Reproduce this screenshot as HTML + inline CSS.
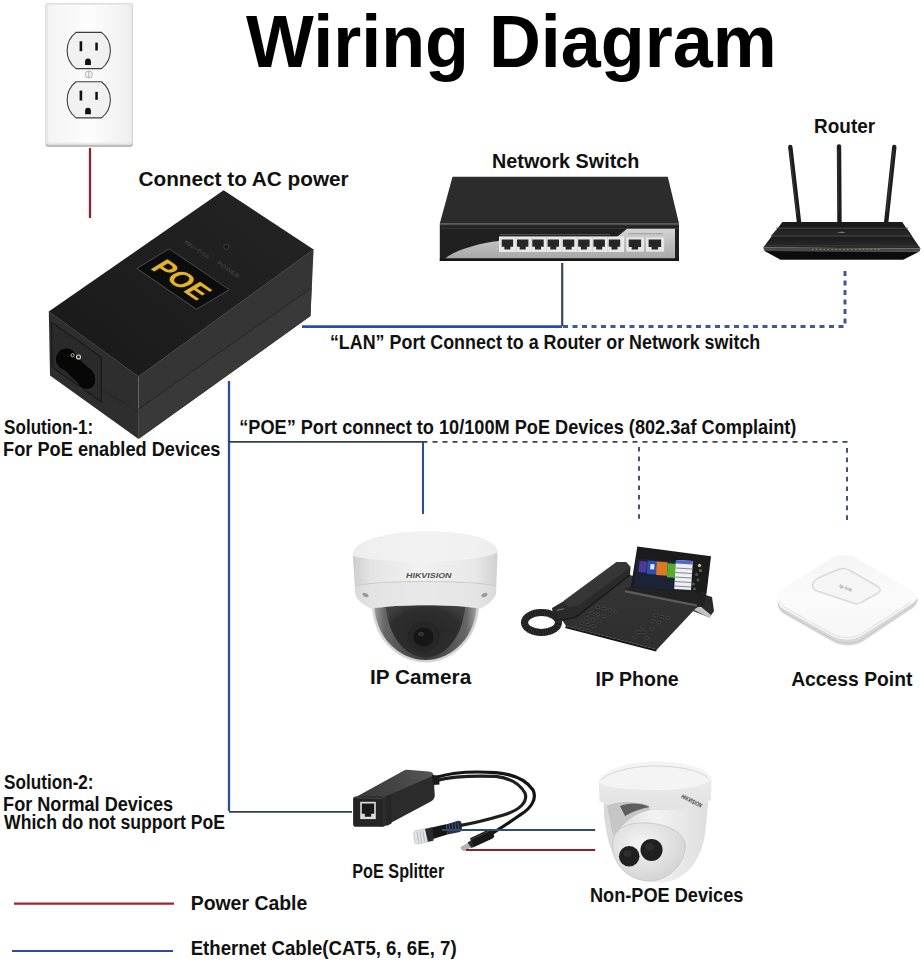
<!DOCTYPE html>
<html><head><meta charset="utf-8">
<style>
html,body{margin:0;padding:0;background:#fff;width:924px;height:968px;overflow:hidden}
svg{display:block}
text{font-family:"Liberation Sans",sans-serif;font-weight:bold;fill:#111}
</style></head><body>
<svg width="924" height="968" viewBox="0 0 924 968">
<defs>
  <linearGradient id="plateG" x1="0" y1="0" x2="1" y2="0">
    <stop offset="0" stop-color="#f4f4f4"/><stop offset="0.5" stop-color="#fdfdfd"/><stop offset="1" stop-color="#efefef"/>
  </linearGradient>
  <linearGradient id="poeTop" x1="223" y1="190" x2="95" y2="345" gradientUnits="userSpaceOnUse">
    <stop offset="0" stop-color="#222"/><stop offset="1" stop-color="#1b1b1b"/>
  </linearGradient>
  <linearGradient id="swTop" x1="0" y1="0" x2="0" y2="1">
    <stop offset="0" stop-color="#2d2d2d"/><stop offset="1" stop-color="#2b2b2b"/>
  </linearGradient>
  <linearGradient id="swSilver" x1="0" y1="0" x2="0" y2="1">
    <stop offset="0" stop-color="#d4d4d4"/><stop offset="1" stop-color="#a8a8a8"/>
  </linearGradient>
  <linearGradient id="domeHouse" x1="0" y1="0" x2="1" y2="0">
    <stop offset="0" stop-color="#cdcdcd"/><stop offset="0.12" stop-color="#e4e4e4"/><stop offset="0.45" stop-color="#f1f1f1"/><stop offset="0.85" stop-color="#e8e8e8"/><stop offset="1" stop-color="#cfcfcf"/>
  </linearGradient>
  <linearGradient id="domeGlass" x1="0" y1="0" x2="1" y2="0">
    <stop offset="0" stop-color="#9a9a9a"/><stop offset="0.1" stop-color="#666"/><stop offset="0.5" stop-color="#3a3a3a"/><stop offset="0.9" stop-color="#666"/><stop offset="1" stop-color="#a0a0a0"/>
  </linearGradient>
  <radialGradient id="domeInner" cx="0.5" cy="0.6" r="0.6">
    <stop offset="0" stop-color="#262626"/><stop offset="0.75" stop-color="#2e2e2e"/><stop offset="1" stop-color="#404040"/>
  </radialGradient>
  <linearGradient id="phoneBase" x1="0" y1="0" x2="0" y2="1">
    <stop offset="0" stop-color="#353535"/><stop offset="1" stop-color="#2e2e2e"/>
  </linearGradient>
  <linearGradient id="handset" x1="0" y1="0" x2="1" y2="1">
    <stop offset="0" stop-color="#3a3a3a"/><stop offset="1" stop-color="#222"/>
  </linearGradient>
  <linearGradient id="apTop" x1="0" y1="0" x2="0" y2="1">
    <stop offset="0" stop-color="#f4f4f4"/><stop offset="0.5" stop-color="#fbfbfb"/><stop offset="1" stop-color="#f6f6f6"/>
  </linearGradient>
  <linearGradient id="splTop" x1="355" y1="797" x2="430" y2="772" gradientUnits="userSpaceOnUse">
    <stop offset="0" stop-color="#383838"/><stop offset="0.6" stop-color="#474747"/><stop offset="1" stop-color="#555"/>
  </linearGradient>
  <linearGradient id="turBody" x1="0" y1="0" x2="1" y2="0">
    <stop offset="0" stop-color="#d8d8d8"/><stop offset="0.5" stop-color="#f2f2f2"/><stop offset="1" stop-color="#dedede"/>
  </linearGradient>
  <linearGradient id="turRing" x1="0" y1="0" x2="0" y2="1">
    <stop offset="0" stop-color="#f0f0f0"/><stop offset="1" stop-color="#e2e2e2"/>
  </linearGradient>
  <radialGradient id="turBall" cx="0.4" cy="0.35" r="0.7">
    <stop offset="0" stop-color="#f4f4f4"/><stop offset="1" stop-color="#d2d2d2"/>
  </radialGradient>
  <linearGradient id="rtTop" x1="0" y1="0" x2="0" y2="1">
    <stop offset="0" stop-color="#1c1c1c"/><stop offset="0.5" stop-color="#181818"/><stop offset="1" stop-color="#2c2c2c"/>
  </linearGradient>
</defs>
<rect width="924" height="968" fill="#fff"/>

<!-- ===== OUTLET ===== -->
<g class="gfx" id="outlet">
  <rect x="45.5" y="3" width="87.5" height="144" rx="3" fill="#bdbdbd"/>
  <rect x="46" y="3.2" width="86.5" height="141.6" rx="2.5" fill="#e9e9e9"/>
  <rect x="48" y="5" width="82.5" height="137.5" rx="2" fill="url(#plateG)"/>
  <g id="rcp">
    <path d="M76 32.4H101.5A22.9 22.9 0 0 1 101.5 68.6H76A22.9 22.9 0 0 1 76 32.4Z" fill="#f1f1f1" stroke="#3c3c3c" stroke-width="1.1"/>
    <rect x="79.6" y="41.3" width="2.6" height="9.9" fill="#111"/>
    <rect x="95.3" y="42.6" width="2.5" height="7.9" fill="#111"/>
    <path d="M85.1 65V61.4A2.9 2.9 0 0 1 90.9 61.4V65Z" fill="#111"/>
  </g>
  <use href="#rcp" y="49.3"/>
  <circle cx="88.8" cy="74.4" r="3.6" fill="#f4f4f4" stroke="#9a9a9a" stroke-width="0.7"/>
  <line x1="88.8" y1="71" x2="88.8" y2="77.8" stroke="#9a9a9a" stroke-width="0.7"/>
</g>

<!-- ===== POE ADAPTER ===== -->
<g class="gfx" id="poe">
  <!-- top face -->
  <polygon points="223.6,190.2 313.6,249.4 138.5,376.5 48.8,311.6" fill="url(#poeTop)"/>
  <!-- right face -->
  <polygon points="138.5,376.5 313.6,249.4 310.5,316 138.5,439" fill="#353535"/>
  <polygon points="138.5,409 311.5,288 310.5,316 138.5,439" fill="#393939"/>
  <line x1="138.5" y1="409" x2="311.5" y2="288" stroke="#262626" stroke-width="1"/>
  <line x1="138.5" y1="376.5" x2="313.6" y2="249.4" stroke="#3a3a3a" stroke-width="0.8"/>
  <!-- front face -->
  <polygon points="48.8,311.6 138.5,376.5 138.5,439 50,375.5" fill="#2e2e2e"/>
  <polygon points="51.5,322.3 101.3,357 101.3,402 52,367" fill="#2a2a2a" stroke="#1a1a1a" stroke-width="1.2"/><line x1="102" y1="389.5" x2="138.5" y2="412.7" stroke="#262626" stroke-width="1"/>
  <!-- IEC C8 inlet -->
  <g fill="#070707" stroke="#383838" stroke-width="0.9">
    <ellipse cx="66.4" cy="359.3" rx="11" ry="11.2"/>
    <ellipse cx="85.6" cy="378" rx="10" ry="11.8" transform="rotate(-20 85.6 378)"/>
  </g>
  <path d="M72.8 352.8 L92 371.5 L79.2 384.3 L60 365.7Z" fill="#070707"/>
  <ellipse cx="66.4" cy="359.3" rx="10.5" ry="10.7" fill="#070707"/>
  <ellipse cx="85.6" cy="378" rx="9.5" ry="11.3" transform="rotate(-20 85.6 378)" fill="#070707"/>
  <circle cx="72.6" cy="355.3" r="1.6" fill="none" stroke="#cfcfb0" stroke-width="0.9"/>
  <circle cx="78.5" cy="357" r="2" fill="none" stroke="#e0e0c0" stroke-width="1.1"/>
  <line x1="48.8" y1="311.6" x2="138.5" y2="376.5" stroke="#333" stroke-width="0.8"/>
  <!-- label -->
  <g transform="matrix(0.826 0.564 -0.855 0.518 169.2 248.8)">
    <rect x="0" y="0" width="72.5" height="38" rx="1" fill="#0c0c0c" stroke="#505050" stroke-width="0.9"/>
    <text x="36" y="30" font-size="28" text-anchor="middle" textLength="58" lengthAdjust="spacingAndGlyphs" style="fill:#e2b526;font-weight:bold">POE</text>
  </g>
  <circle cx="226.3" cy="246.8" r="2.6" fill="#161616" stroke="#444" stroke-width="0.9"/>
  <g style="font-size:5.5px;font-weight:normal" fill="#4a4a4a">
    <text transform="translate(186 239.5) rotate(34.3)" x="0" y="4" textLength="29" lengthAdjust="spacingAndGlyphs" style="fill:#4a4a4a;font-weight:normal">48V⎓0.5A</text>
    <text transform="translate(219 260.5) rotate(34.3)" x="0" y="4" textLength="26" lengthAdjust="spacingAndGlyphs" style="fill:#4a4a4a;font-weight:normal">POWER</text>
  </g>
</g>

<!-- ===== NETWORK SWITCH ===== -->
<g class="gfx" id="switch">
  <polygon points="452.5,176.8 667.8,176.8 679,223.5 439.8,223.5" fill="url(#swTop)"/>
  <rect x="439.8" y="223.5" width="239.2" height="37.3" fill="#202020"/>
  <line x1="440" y1="224.6" x2="679" y2="224.6" stroke="#505050" stroke-width="1.2"/>
  <line x1="441" y1="228.3" x2="679" y2="228.3" stroke="#3c3c3c" stroke-width="0.9"/>
  <path d="M445 258.5 C455 250 480 243 498.6 241 L500 237 L617 237 L627 228.8 L675 228.8 L675 258.5Z" fill="url(#swSilver)"/>
  <rect x="499" y="236.4" width="125" height="15.6" fill="#e8e8e8"/>
  <rect x="626.3" y="237.3" width="17.6" height="14.4" fill="#e6e6e6"/>
  <rect x="646" y="237.3" width="18.2" height="14.4" fill="#e6e6e6"/>
  <g fill="#d0d0d0">
    <rect x="515.6" y="237" width="0.8" height="15"/>
    <rect x="530.9" y="237" width="0.8" height="15"/>
    <rect x="546.2" y="237" width="0.8" height="15"/>
    <rect x="561.5" y="237" width="0.8" height="15"/>
    <rect x="576.8" y="237" width="0.8" height="15"/>
    <rect x="592.1" y="237" width="0.8" height="15"/>
    <rect x="607.4" y="237" width="0.8" height="15"/>
  </g>
  <g id="ports" fill="#262626">
    <path d="M501.7 239.4H513.1V246.8H510.4V249.4H504.4V246.8H501.7Z"/>
    <path d="M517.0 239.4H528.4V246.8H525.7V249.4H519.7V246.8H517.0Z"/>
    <path d="M532.3 239.4H543.7V246.8H541.0V249.4H535.0V246.8H532.3Z"/>
    <path d="M547.6 239.4H559.0V246.8H556.3V249.4H550.3V246.8H547.6Z"/>
    <path d="M562.9 239.4H574.3V246.8H571.6V249.4H565.6V246.8H562.9Z"/>
    <path d="M578.2 239.4H589.6V246.8H586.9V249.4H580.9V246.8H578.2Z"/>
    <path d="M593.5 239.4H604.9V246.8H602.2V249.4H596.2V246.8H593.5Z"/>
    <path d="M608.8 239.4H620.2V246.8H617.5V249.4H611.5V246.8H608.8Z"/>
    <path d="M628.7 239.4H641.1V247H638.1V249.6H631.7V247H628.7Z"/>
    <path d="M648.6 239.4H661.1V247H658.1V249.6H651.6V247H648.6Z"/>
  </g>
  <line x1="500" y1="234.6" x2="610" y2="234.6" stroke="#777" stroke-width="0.6"/>
  <line x1="628" y1="233.8" x2="663" y2="233.8" stroke="#777" stroke-width="0.6"/>
  <rect x="439.8" y="258.5" width="239.2" height="2.5" fill="#151515"/>
</g>

<!-- ===== ROUTER ===== -->
<g class="gfx" id="router">
  <path d="M790.3 147 L799.8 229" stroke="#1c1c1c" stroke-width="4.4" stroke-linecap="round"/>
  <path d="M839 146.5 L839.5 226" stroke="#1c1c1c" stroke-width="4.4" stroke-linecap="round"/>
  <path d="M894.3 147 L885.8 226" stroke="#1c1c1c" stroke-width="4.4" stroke-linecap="round"/>
  <path d="M789.6 150 L797 214" stroke="#3a3a3a" stroke-width="1"/>
  <path d="M838 150 L838.3 212" stroke="#3a3a3a" stroke-width="1"/>
  <path d="M893.3 150 L886.6 212" stroke="#3a3a3a" stroke-width="1"/>
  <path d="M782.4 221.9 L902.2 221.9 L920.5 248.4 L763.2 247.5Z" fill="url(#rtTop)"/>
  <path d="M776 230 L908 230 L912 236 L771 236Z" fill="#252525"/>
  <path d="M763.2 247.5 L920.5 248.4 L919.5 251.5 L764.5 251Z" fill="#484848"/>
  <path d="M764.5 251 L919.5 251.5 L903.2 259.8 L780.6 259.8Z" fill="#0c0c0c"/>
  <line x1="776" y1="228.2" x2="908" y2="228.2" stroke="#555" stroke-width="0.9"/>
  <line x1="771" y1="236" x2="912" y2="236" stroke="#505050" stroke-width="0.9"/>
  <line x1="766" y1="245.5" x2="918" y2="246" stroke="#3a3a3a" stroke-width="0.8"/>
  <line x1="812" y1="249.3" x2="882" y2="249.3" stroke="#8a8a6a" stroke-width="1" stroke-dasharray="1.5 2.4"/>
  <path d="M836 233 L842 231.5 L846 233 Z" fill="#777"/>
</g>

<!-- ===== DOME CAMERA ===== -->
<g class="gfx" id="dome">
  <!-- glass dome -->
  <path d="M372 604 A53.5 58.5 0 0 0 479 604Z" fill="#d4d4d4"/>
  <path d="M374.5 604 A51 56 0 0 0 476.5 604Z" fill="url(#domeGlass)"/>
  <path d="M385.5 600 A40 57.5 0 0 0 465.5 600Z" fill="url(#domeInner)"/>
  <ellipse cx="424" cy="636.5" rx="16" ry="15" fill="#262626"/>
  <ellipse cx="423.5" cy="637" rx="10" ry="9.5" fill="#161616"/>
  <ellipse cx="421" cy="634" rx="3" ry="2.2" fill="#333"/>
  <!-- housing -->
  <path d="M352.8 556 C352.8 538 395 531.5 426 531.5 C460 531.5 497.5 537 497.5 553 L496 594 C493 601 486 606 480 608.5 C455 604 398 604 371 608.5 C364 605 357 601 355.4 594Z" fill="url(#domeHouse)"/>
  <path d="M352.8 556 C352.8 538 395 531.5 426 531.5 C460 531.5 497.5 537 497.5 553 C480 560 440 562 426 562 C400 562 368 560 352.8 556Z" fill="#f3f3f3" opacity="0.8"/>
  <path d="M355.2 586 C380 580 470 580 496.2 586 L496 594 C493 601 486 606 480 608.5 C455 604 398 604 371 608.5 C364 605 357 601 355.4 594Z" fill="#e2e2e2" opacity="0.55"/>
  <path d="M355.2 586 C380 580 470 580 496.2 586" fill="none" stroke="#cacaca" stroke-width="1.2"/>
  <ellipse cx="365.5" cy="595" rx="3.2" ry="1.8" fill="#9a9a9a" transform="rotate(25 365.5 595)"/>
  <ellipse cx="484.5" cy="595" rx="3.2" ry="1.8" fill="#9a9a9a" transform="rotate(-25 484.5 595)"/>
  <text x="406" y="577.6" font-size="8" textLength="45.5" lengthAdjust="spacingAndGlyphs" style="fill:#505050;font-style:italic;font-weight:bold">HIKVISION</text>
</g>

<!-- ===== IP PHONE ===== -->
<g class="gfx" id="phone">
  <!-- stand -->
  <path d="M696 592 L712 597 L714 611 L709.5 617.5 L693 611Z" fill="#2a2a2a"/>
  <path d="M693 609.5 L700 606 L711 615 L709.5 617.8Z" fill="#c4c4c4"/>
  <!-- base -->
  <path d="M555 609 L612 566 L630 575 L696 598 L697 607 L657 649.5 L566 626Z" fill="url(#phoneBase)"/>
  <path d="M566 626 L657 649.5 L656 651.5 L565 628Z" fill="#161616"/>
  <path d="M626 591.5 L697 606" stroke="#5a5a5a" stroke-width="1.6"/>
  <!-- keys -->
  <g fill="#1e1e1e" stroke="#5a5a5a" stroke-width="0.6">
    <rect x="596" y="606" width="3.6" height="2.3" rx="0.6"/><rect x="602" y="607.5" width="3.6" height="2.3" rx="0.6"/><rect x="608" y="609" width="3.6" height="2.3" rx="0.6"/><rect x="614" y="610.5" width="3.6" height="2.3" rx="0.6"/>
    <rect x="590" y="612" width="3.6" height="2.3" rx="0.6"/><rect x="596" y="613.5" width="3.6" height="2.3" rx="0.6"/><rect x="602" y="615" width="3.6" height="2.3" rx="0.6"/>
    <rect x="585" y="617" width="3.6" height="2.3" rx="0.6"/><rect x="591" y="618.5" width="3.6" height="2.3" rx="0.6"/><rect x="597" y="620" width="3.6" height="2.3" rx="0.6"/>
    <rect x="580" y="622" width="3.6" height="2.3" rx="0.6"/><rect x="586" y="623.5" width="3.6" height="2.3" rx="0.6"/><rect x="592" y="625" width="3.6" height="2.3" rx="0.6"/>
    <rect x="574" y="626.5" width="3.6" height="2.3" rx="0.6"/><rect x="580" y="628" width="3.6" height="2.3" rx="0.6"/><rect x="586" y="629.5" width="3.6" height="2.3" rx="0.6"/>
    <rect x="654" y="614" width="3.6" height="2.3" rx="0.6"/><rect x="660" y="615.5" width="3.6" height="2.3" rx="0.6"/><rect x="666" y="617" width="3.6" height="2.3" rx="0.6"/>
    <rect x="651" y="620" width="3.6" height="2.3" rx="0.6"/><rect x="657" y="621.5" width="3.6" height="2.3" rx="0.6"/>
    <rect x="641" y="626" width="3.6" height="2.3" rx="0.6"/><rect x="650" y="628" width="3.6" height="2.3" rx="0.6"/>
    <rect x="636" y="631" width="10" height="2.3" rx="0.6"/><rect x="633" y="636" width="3.6" height="2.3" rx="0.6"/><rect x="645" y="637" width="3.6" height="2.3" rx="0.6"/>
  </g>
  <!-- screen -->
  <path d="M624 590 L631 586.5 L706.6 592.5 L704 606.5 L697 607 Z" fill="#222"/>
  <path d="M625 591.2 L697 605.5" stroke="#5c5c5c" stroke-width="2.2"/>
  <path d="M637.3 546.5 L711 556.2 L706.6 593 L630.8 587.2Z" fill="#1b1b1b"/>
  <path d="M636.5 558.8 L693.5 562.3 L691.2 591 L633.8 587.5Z" fill="#1d2336"/>
  <path d="M639.5 561 L647 561.5 L646.3 572.5 L638.6 572Z" fill="#4a3a9a"/>
  <path d="M647.6 560.6 L657.3 561.2 L656.6 574.6 L646.8 574Z" fill="#2b50b4"/>
  <path d="M650.5 564 L654.5 564.3 L654.2 569.5 L650.2 569.2Z" fill="#e8e8f0"/>
  <path d="M656.8 561.6 L667.6 562.3 L666.9 575.7 L656.1 575Z" fill="#dc7a22"/>
  <path d="M667.6 563.3 L677.4 564 L676.7 577.9 L666.9 577.2Z" fill="#52ad32"/>
  <path d="M676 560 L692.8 561 L691 590 L674.2 589Z" fill="#eef0f4"/>
  <path d="M676 560 L692.8 561 L692.5 564.5 L675.8 563.5Z" fill="#4a6ad0"/>
  <g stroke="#3a3f4a" stroke-width="0.6"><path d="M675.6 568 L692.3 569"/><path d="M675.3 572.5 L692 573.5"/><path d="M675 577 L691.7 578"/><path d="M674.7 581.5 L691.4 582.5"/><path d="M674.4 586 L691.1 587"/></g>
  <circle cx="699.5" cy="565.4" r="1.7" fill="#c8c860"/>
  <circle cx="700.5" cy="570.5" r="1.5" fill="#666"/><circle cx="696.5" cy="574.5" r="1.5" fill="#555"/><circle cx="698" cy="580" r="1.5" fill="#555"/><circle cx="693.5" cy="584" r="1.5" fill="#555"/><circle cx="694.5" cy="589" r="1.4" fill="#555"/>
  <!-- handset -->
  <path d="M552 608 L564 601 L617 562 L626 562 L630.5 567 L630 575 L576 617 L561 620.5 L553 616Z" fill="#2a2a2a"/>
  <path d="M564 601 L617 562 L626 562 L630.5 567 L578 606 L568 607Z" fill="#363636"/>
  <path d="M564 601 L617 562" stroke="#4c4c4c" stroke-width="0.9" fill="none"/>
  <path d="M553 616 L561 620.5 L576 617 L630 575" stroke="#151515" stroke-width="1.2" fill="none"/>
  <rect x="557" y="609" width="7" height="1.2" fill="#777" transform="rotate(-12 560 610)"/>
  <!-- cord -->
  <ellipse cx="541.5" cy="622.5" rx="17" ry="10" fill="none" stroke="#1b1b1b" stroke-width="7"/>
  <ellipse cx="541.5" cy="622.5" rx="17" ry="10" fill="none" stroke="#3a3a3a" stroke-width="7" stroke-dasharray="0.8 1.6"/>
</g>

<!-- ===== ACCESS POINT ===== -->
<g class="gfx" id="ap">
  <path d="M777.7 601 C777.5 594 782 591 790 586 L832 560 C838 556 850 556 856 560 L910 592 C918 597 919 603 913 608 L863 641.5 C855 646.5 843 646.5 835 643 L784 614 C779 611 777.8 607 777.7 601Z" fill="#d9d9d9"/>
  <path d="M778 603 C779 608 781 610 785 612.5 L835 640.5 C843 644 855 644 862 639.5 L912 606 C915 604 917 602 917.5 599" fill="none" stroke="#c4c4c4" stroke-width="0.9"/>
  <path d="M777.7 597.5 C777.7 591 783 588 790 584 L832 558 C838 554 850 554 856 558 L910 589.5 C918 594 918.5 599.5 912 603.5 L862 635.5 C854 640.5 842 640.5 834 637 L783 608.5 C778.5 606 777.7 602.5 777.7 597.5Z" fill="url(#apTop)"/>
  <path d="M779 601 C781 605 784 606.5 787 608.5 L834 635 C842 638.5 854 638.5 861 634 L911 602" fill="none" stroke="#e0e0e0" stroke-width="1"/>
  <path d="M812.5 586 C812.5 582 815 580 818 578 L838 569.5 C842 568 846 568 849 570 L877 586 C881 588.5 881 591 878 593 L862 602 C859 604 856 604 853 603 L817 591 C814 590 812.5 588.5 812.5 586Z" fill="#f5f5f5" stroke="#dadada" stroke-width="1.5"/>
  <text x="838" y="588" font-size="5" style="fill:#8a8a8a;font-weight:normal" transform="rotate(22 841 590)">tp-link</text>
</g>

<!-- ===== POE SPLITTER ===== -->
<g class="gfx" id="splitter">
  <!-- cables -->
  <path d="M437.6 777.1 C450 773 470 771 495.9 772.6 C512 774 525 778 533 790 C537 798 532 808 520 815 C510 822 498 830 489.8 834.7" fill="none" stroke="#141414" stroke-width="3.2"/>
  <path d="M437.6 780.2 C450 777 470 775.5 495.9 776.4 C510 778 520 784 525 793 C528 802 520 810 503.5 815 C490 819 475 823 459.5 825.6" fill="none" stroke="#1e1e1e" stroke-width="3.2"/>
  <!-- box -->
  <path d="M355 797.5 L404 770.5 C405 769.8 406 769.7 407 769.8 L429 771.5 C432 772 433.5 773 433.5 776 L382 798.5Z" fill="url(#splTop)"/>
  <path d="M380.5 798.5 L433.5 775.5 L434.8 795.5 C434.8 798.5 433 800.5 430 802 L383.5 826.7 L380.5 826.7Z" fill="#2c2c2c"/>
  <path d="M386 796.5 L391 794.3 L391.5 823.5 L386.5 826Z" fill="#262626"/>
  <rect x="353.1" y="796.4" width="29.5" height="30.3" rx="2.8" fill="#242424"/>
  <path d="M355 797.5 L382 798.5" stroke="#555" stroke-width="0.8"/>
  <rect x="360.2" y="801.8" width="15.6" height="17.3" fill="#dcdcdc"/>
  <path d="M361.8 803.6H374.2V813.8H371.2V816.8H364.8V813.8H361.8Z" fill="#1a1a1a"/>
  <path d="M432 775 L439 775.5 L439.5 784.5 L433 785Z" fill="#1a1a1a"/>
  <!-- RJ45 plug -->
  <path d="M446 824.5 L458 820.8 C460.5 820.3 461.5 822 461.5 824 L462 829 C462 831 460.5 832 458.5 832.3 L447.5 834.5Z" fill="#1f2638"/>
  <g stroke="#5a6070" stroke-width="0.7"><path d="M449 823.8 L450 833.8"/><path d="M452 823 L453 833.2"/><path d="M455 822.2 L456 832.6"/><path d="M458 821.5 L459 832"/></g>
  <path d="M426 828.8 L446 824.3 L447.5 834.6 L428 840.5Z" fill="#161616"/>
  <path d="M413.8 833 C414 831.5 415 831 416.5 830.6 L431 827.5 L433 840.8 L417.5 844 C416 844.3 414.8 843.5 414.6 842Z" fill="#e3e6e9" stroke="#a9b0b8" stroke-width="0.6"/>
  <g stroke="#8e96a0" stroke-width="0.6"><path d="M417 832 L418.5 842.5"/><path d="M420 831.4 L421.5 842"/><path d="M423 830.8 L424.5 841.4"/><path d="M426 830.2 L427.5 840.8"/></g>
  <path d="M425 829 L432 827.6 L433.6 840.6 L428 841.8Z" fill="#2a2a2a"/>
  <!-- DC plug -->
  <path d="M470 838.3 L488.5 829.5 C491 828.5 492.5 830 493 832 L494 835 C494.5 837 493.5 838 491.5 839 L473 847.5Z" fill="#181818"/>
  <path d="M471 839.5 L489 831" stroke="#555" stroke-width="0.8"/>
  <path d="M461.3 847.2 L468.5 843.2 L472.5 846 L465 850.3 C463 851 461.5 849.5 461.3 847.2Z" fill="#b5b5b5" stroke="#6a6a6a" stroke-width="0.5"/>
  <path d="M467.5 842.5 L471 840.5 L474 846.5 L471.5 848Z" fill="#2a2a2a"/>
</g>

<!-- ===== TURRET CAMERA ===== -->
<g class="gfx" id="turret">
  <!-- body -->
  <path d="M604 798 C604 790 640 784 660 785 C690 786 710 792 708 805 L705 835 C700 860 690 875 668 882 C645 886 625 875 615 858 C608 845 606 830 604 815Z" fill="url(#turBody)"/>
  <!-- ring -->
  <path d="M598.7 782.6 C600 770 630 761.5 655 761.5 C685 761.5 712 770 711.5 779.4 L711 800 C700 808 680 810 655 810 C630 810 605 806 599.5 801Z" fill="url(#turRing)"/>
  <path d="M598.7 782.6 C600 770 630 761.5 655 761.5 C685 761.5 712 770 711.5 779.4 C700 788 680 790 655 790 C630 790 605 788 598.7 782.6Z" fill="#f4f4f4"/>
  <path d="M601 780 C610 771 635 766 655 766 C680 766 702 771 709 779" fill="none" stroke="#d0d0d0" stroke-width="0.9"/>
  <!-- socket shadow -->
  <path d="M607 806 C614 802 630 800 648 805 L650 810 C640 812 628 818 619 830 L613 836Z" fill="#c6c6c6"/>
  <path d="M620 806 C628 802.5 640 802.5 650 807 C642 808.5 633 811 625 816Z" fill="#5e5e5e"/>
  <!-- lens module -->
  <path d="M612.5 845 C612 832 622 824 640 823 C662 822 682 830 685 843 C687 860 672 879 652 881 C630 882 613 866 612.5 845Z" fill="url(#turBall)" stroke="#c4c4c4" stroke-width="0.8"/>
  <ellipse cx="629.2" cy="856.2" rx="10.3" ry="10.3" fill="#202020"/>
  <ellipse cx="651.5" cy="849.9" rx="11" ry="11" fill="#202020"/>
  <ellipse cx="627.5" cy="853.5" rx="4" ry="3.5" fill="#2e2e2e"/>
  <ellipse cx="649.5" cy="847" rx="4.2" ry="3.7" fill="#2e2e2e"/>
  <text x="681" y="803" font-size="6.2" textLength="22" lengthAdjust="spacingAndGlyphs" transform="rotate(27 692 800)" style="fill:#3a3a3a;font-style:italic;font-weight:bold">HIKVISION</text>
</g>

<!-- ===== LINES ===== -->
<g id="lines" fill="none">
  <line x1="90" y1="148" x2="90" y2="218" stroke="#8e2232" stroke-width="2.3"/>
  <!-- LAN solid -->
  <path d="M302 326.6H562.2" stroke="#2b4f9e" stroke-width="2.6"/>
  <path d="M562.2 263V326" stroke="#34485a" stroke-width="2.2"/>
  <!-- LAN dashed -->
  <path d="M563 326.6H845V270" stroke="#3d5a96" stroke-width="3" stroke-dasharray="5 4.5"/>
  <!-- POE vertical + horizontals -->
  <path d="M229 381V811" stroke="#2b4e98" stroke-width="2.3"/>
  <path d="M229 811.9H352" stroke="#30424e" stroke-width="1.9"/>
  <path d="M229 441.9H427.5" stroke="#30424e" stroke-width="1.9"/>
  <path d="M423 442V514" stroke="#2d4f8f" stroke-width="2.1"/>
  <path d="M432.5 441.9H847.6" stroke="#3c454c" stroke-width="1.9" stroke-dasharray="5 5"/>
  <path d="M639 447V520" stroke="#45507a" stroke-width="2" stroke-dasharray="4.6 5"/>
  <path d="M847 448V520" stroke="#45507a" stroke-width="2" stroke-dasharray="4.7 4.9"/>
  <!-- splitter to device -->
  <line x1="442" y1="829.9" x2="595.2" y2="829.9" stroke="#2f4d6e" stroke-width="2"/>
  <line x1="466" y1="850" x2="595.2" y2="850" stroke="#8c2230" stroke-width="2.2"/>
  <!-- legend -->
  <line x1="14" y1="903.7" x2="174" y2="903.7" stroke="#a2242f" stroke-width="2.3"/>
  <line x1="12" y1="951" x2="173" y2="951" stroke="#2c4e9a" stroke-width="2.2"/>
</g>

<!-- ===== TEXT ===== -->
<g id="texts">
  <text x="246.0" y="66.5" font-size="74.6" textLength="530.6" lengthAdjust="spacingAndGlyphs" style="fill:#000">Wiring Diagram</text>
  <text x="138.5" y="186.3" font-size="20.6" textLength="210.2" lengthAdjust="spacingAndGlyphs">Connect to AC power</text>
  <text x="492.1" y="167.5" font-size="20.6" textLength="147.2" lengthAdjust="spacingAndGlyphs">Network Switch</text>
  <text x="814.1" y="132.5" font-size="20.6" textLength="61.0" lengthAdjust="spacingAndGlyphs">Router</text>
  <text x="329.9" y="349.1" font-size="20.4" textLength="430.4" lengthAdjust="spacingAndGlyphs">“LAN” Port Connect to a Router or Network switch</text>
  <text x="4.1" y="434.3" font-size="19.8" textLength="89.1" lengthAdjust="spacingAndGlyphs">Solution-1:</text>
  <text x="3.1" y="456.4" font-size="19.8" textLength="217.4" lengthAdjust="spacingAndGlyphs">For PoE enabled Devices</text>
  <text x="239.2" y="434.4" font-size="20.4" textLength="557.2" lengthAdjust="spacingAndGlyphs">“POE” Port connect to 10/100M PoE Devices (802.3af Complaint)</text>
  <text x="370.0" y="683.6" font-size="20.6" textLength="101.2" lengthAdjust="spacingAndGlyphs">IP Camera</text>
  <text x="595.6" y="685.5" font-size="20.6" textLength="83.1" lengthAdjust="spacingAndGlyphs">IP Phone</text>
  <text x="791.2" y="685.5" font-size="20.6" textLength="121.2" lengthAdjust="spacingAndGlyphs">Access Point</text>
  <text x="4.1" y="789.4" font-size="19.8" textLength="89.5" lengthAdjust="spacingAndGlyphs">Solution-2:</text>
  <text x="3.1" y="811.3" font-size="19.8" textLength="170.0" lengthAdjust="spacingAndGlyphs">For Normal Devices</text>
  <text x="4.1" y="829.3" font-size="19.8" textLength="221.0" lengthAdjust="spacingAndGlyphs">Which do not support PoE</text>
  <text x="352.3" y="878.2" font-size="20" textLength="91.9" lengthAdjust="spacingAndGlyphs">PoE Splitter</text>
  <text x="590.0" y="902.3" font-size="20.4" textLength="153.4" lengthAdjust="spacingAndGlyphs">Non-POE Devices</text>
  <text x="190.7" y="909.8" font-size="20.4" textLength="116.6" lengthAdjust="spacingAndGlyphs">Power Cable</text>
  <text x="190.7" y="955.3" font-size="20.4" textLength="265.9" lengthAdjust="spacingAndGlyphs">Ethernet Cable(CAT5, 6, 6E, 7)</text>
</g>
</svg>
</body></html>
